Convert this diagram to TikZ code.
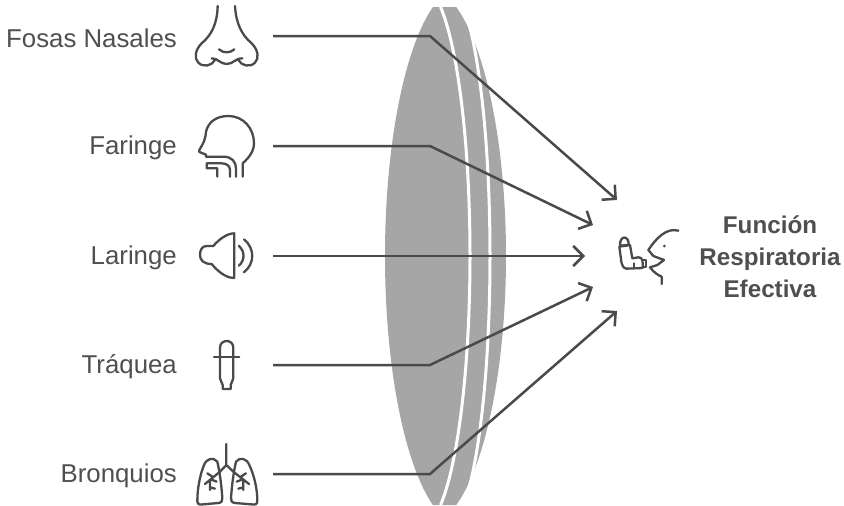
\documentclass[tikz,border=0pt]{standalone}
\usepackage{fontspec}
\setmainfont{Liberation Sans}
\usetikzlibrary{arrows.meta}
\definecolor{ink}{HTML}{4A4A4A}
\definecolor{txt}{HTML}{4F4F4F}
\definecolor{lens}{HTML}{A6A6A6}
\tikzset{
  lbl/.style={anchor=east,text=txt,font=\fontsize{25.8}{32}\selectfont,inner sep=0pt},
  res/.style={align=center,text=txt,font=\fontsize{24.2}{32}\selectfont\bfseries,inner sep=0pt},
  icon/.style={draw=ink,line width=2.3pt,line cap=round,line join=round},
  conn/.style={draw=ink,line width=2.5pt,line join=miter,-{Straight Barb[length=10pt,width=20pt,line width=2.5pt]}},
  whiteline/.style={draw=white,line width=3pt}
}
\begin{document}
\begin{tikzpicture}[x=1pt,y=-1pt]
\useasboundingbox (0,0) rectangle (844,506);
% lens
\fill[lens] plot[domain=-249:249,samples=90] ({463-78*sqrt(1-(\x/270)^2)},{256+\x})
  -- plot[domain=249:-249,samples=90] ({425+81*sqrt(1-(\x/270)^2)},{256+\x}) -- cycle;
\draw[whiteline] plot[domain=-249:249,samples=90] ({470+48*(sqrt(1-(\x/270)^2)-1)},{256+\x});
\draw[whiteline] plot[domain=-232:232,samples=90] ({490+43*(sqrt(1-(\x/270)^2)-1)},{256+\x});
% labels
\node[lbl] (n1) at (177,38) {Fosas Nasales};
\node[lbl] (n2) at (177,148) {Faringe};
\node[lbl] (n3) at (177,258) {Laringe};
\node[lbl] (n4) at (177,367) {Tráquea};
\node[lbl] (n5) at (177,476) {Bronquios};
\node[res] (r) at (770,257) {Función\\Respiratoria\\Efectiva};
% connectors
\coordinate (s1) at (273,36); \coordinate (b1) at (430,36); \coordinate (e1) at (617,200);
\coordinate (s2) at (273,146); \coordinate (b2) at (430,146); \coordinate (e2) at (593,225);
\coordinate (s3) at (273,256); \coordinate (e3) at (585,256);
\coordinate (s4) at (273,365); \coordinate (b4) at (430,365); \coordinate (e4) at (593,287);
\coordinate (s5) at (273,474); \coordinate (b5) at (430,474); \coordinate (e5) at (617,311);
\draw[conn] (s1) -- (b1) -- (e1);
\draw[conn] (s2) -- (b2) -- (e2);
\draw[conn] (s3) -- (e3);
\draw[conn] (s4) -- (b4) -- (e4);
\draw[conn] (s5) -- (b5) -- (e5);
% nose and head
\begin{scope}[shift={(180,0)},scale=1/3]
\draw[icon] (113,18) .. controls (112,70) and (95,105) .. (65,130) .. controls (45,150) and (42,175) .. (55,188) .. controls (70,203) and (95,198) .. (105,180);
\draw[icon] (165,18) .. controls (168,70) and (185,105) .. (215,130) .. controls (235,150) and (238,175) .. (225,188) .. controls (210,203) and (185,198) .. (175,180);
\draw[icon] (95,175) .. controls (115,175) and (120,192) .. (140,192) .. controls (160,192) and (165,175) .. (187,175);
\draw[icon] (117,148) .. controls (130,160) and (150,160) .. (163,148);
\draw[icon] (188,530) -- (188,490) .. controls (205,475) and (222,455) .. (222,430) .. controls (222,385) and (190,348) .. (145,348) .. controls (110,348) and (85,365) .. (78,395) .. controls (76,420) and (70,430) .. (58,450) -- (58,456) -- (78,464) -- (78,470) -- (130,470) .. controls (155,470) and (168,485) .. (168,505) -- (168,530);
\draw[icon] (150,530) -- (150,510) .. controls (150,498) and (140,490) .. (125,490) -- (80,490) -- (80,505) -- (112,505) -- (112,530);
\end{scope}
% speaker and dropper
\begin{scope}[shift={(180,210)},scale=1/3]
\draw[icon] (163,204) -- (163,70) .. controls (140,70) and (115,90) .. (100,108) -- (80,108) .. controls (66,108) and (60,120) .. (60,135) .. controls (60,150) and (70,162) .. (95,162) .. controls (110,180) and (135,204) .. (163,204);
\draw[icon] (177,108) .. controls (195,125) and (195,150) .. (177,167);
\draw[icon] (192,88) .. controls (225,115) and (225,160) .. (192,187);
\draw[icon] (128,537) -- (128,525) -- (120,505) -- (120,413) .. controls (120,400) and (130,393) .. (140,393) .. controls (150,393) and (160,400) .. (160,413) -- (160,505) -- (152,525) -- (152,537) -- cycle;
\draw[icon] (102,441) -- (178,441);
\end{scope}
% lungs
\begin{scope}[shift={(180,430)},scale=1/3]
\draw[icon] (139,42) -- (139,105) -- (120,125) (139,105) -- (160,125);
\draw[icon] (112,95) .. controls (100,80) and (80,85) .. (72,105) .. controls (60,135) and (52,175) .. (52,213) .. controls (52,225) and (60,224) .. (70,223) -- (115,219) .. controls (125,218) and (128,212) .. (127,203) .. controls (124,165) and (120,130) .. (112,95) -- cycle;
\draw[icon] (168,95) .. controls (180,80) and (200,85) .. (208,105) .. controls (222,135) and (232,175) .. (232,213) .. controls (232,225) and (224,224) .. (214,223) -- (165,219) .. controls (155,218) and (152,212) .. (153,203) .. controls (156,165) and (160,130) .. (168,95) -- cycle;
\draw[icon] (120,125) -- (75,162) (100,142) -- (82,130) (92,148) -- (110,155) (90,152) -- (90,180) (90,172) -- (105,176);
\draw[icon] (160,125) -- (207,162) (180,142) -- (198,130) (188,148) -- (170,155) (190,152) -- (190,180) (190,172) -- (175,176);
\end{scope}
% inhaler and face
\begin{scope}[shift={(570,180)},scale=1/3]
\draw[icon] (150,197) .. controls (148,165) and (178,165) .. (176,195) -- cycle;
\draw[icon] (148,200) -- (180,195) -- (187,235) -- (205,232) .. controls (215,232) and (218,240) .. (218,250) -- (218,264) -- (170,266) .. controls (160,266) and (156,255) .. (154,245) -- cycle;
\draw[icon] (218,240) -- (228,240) -- (228,260) -- (218,260);
\draw[icon] (192,250) -- (192,264);
\draw[icon] (325,152) .. controls (290,142) and (258,175) .. (235,210) -- (250,228) -- (282,240) -- (262,255) -- (240,262) .. controls (250,275) and (262,285) .. (275,290) -- (275,312);
\fill[ink] (283,198) circle (4.5);
\end{scope}
\end{tikzpicture}
\end{document}
